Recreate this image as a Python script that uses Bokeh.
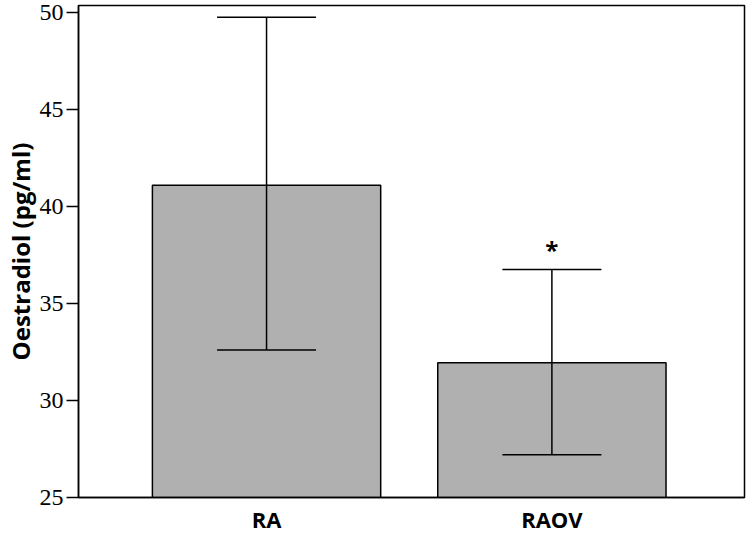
from bokeh.plotting import figure
from bokeh.models import ColumnDataSource, Whisker, TeeHead, FixedTicker, Range1d
from bokeh.core.properties import value
from bokeh.embed import file_html
from bokeh.resources import INLINE

categories = ["RA", "RAOV"]
positions = [1, 2]
means = [41.1, 31.95]
upper = [49.75, 36.75]
lower = [32.6, 27.2]
marks = ["", "*"]
y_ticks = [25, 30, 35, 40, 45, 50]

src = ColumnDataSource(dict(x=positions, top=means, upper=upper, lower=lower, mark=marks))

p = figure(width=746, height=536, output_backend="svg", toolbar_location=None,
           x_range=Range1d(0.341, 2.675), y_range=Range1d(25, 50.36),
           min_border_left=69, min_border_right=2, min_border_top=5, min_border_bottom=30)

p.vbar(x="x", top="top", bottom=25, width=0.8, source=src,
       fill_color="#b0b0b0", line_color="black", line_width=1.5)

w = Whisker(base="x", upper="upper", lower="lower", source=src, level="overlay",
            line_color="black", line_width=1.5,
            upper_head=TeeHead(size=99, line_color="black", line_width=1.5),
            lower_head=TeeHead(size=99, line_color="black", line_width=1.5))
p.add_layout(w)

p.text(x="x", y="upper", text="mark", source=src, text_align="center",
       text_baseline="bottom", y_offset=-4, text_font=value("Open Sans"),
       text_font_style="bold", text_font_size="24px", text_color="black")

p.grid.visible = False
p.outline_line_color = "black"
p.outline_line_width = 1.5
p.outline_line_alpha = 1

p.yaxis.ticker = FixedTicker(ticks=y_ticks)
p.yaxis.minor_tick_line_color = None
p.yaxis.major_tick_out = 12
p.yaxis.major_tick_in = 0
p.yaxis.major_tick_line_width = 1.5
p.yaxis.axis_line_width = 1.5
p.yaxis.major_label_text_font = "Liberation Serif"
p.yaxis.major_label_text_font_size = "24px"
p.yaxis.major_label_text_color = "black"
p.yaxis.major_label_standoff = 3
p.yaxis.axis_label = "Oestradiol (pg/ml)"
p.yaxis.axis_label_text_font = "Open Sans"
p.yaxis.axis_label_text_font_style = "bold"
p.yaxis.axis_label_text_font_size = "24px"
p.yaxis.axis_label_text_color = "black"
p.yaxis.axis_label_standoff = 0

p.xaxis.ticker = FixedTicker(ticks=positions)
p.xaxis.major_label_overrides = {pos: c for pos, c in zip(positions, categories)}
p.xaxis.major_tick_out = 0
p.xaxis.major_tick_in = 0
p.xaxis.minor_tick_line_color = None
p.xaxis.axis_line_width = 1.5
p.xaxis.major_label_text_font = "Open Sans"
p.xaxis.major_label_text_font_style = "bold"
p.xaxis.major_label_text_font_size = "22px"
p.xaxis.major_label_text_color = "black"
p.xaxis.major_label_standoff = 6

open("out.html", "w").write(file_html(p, INLINE))
